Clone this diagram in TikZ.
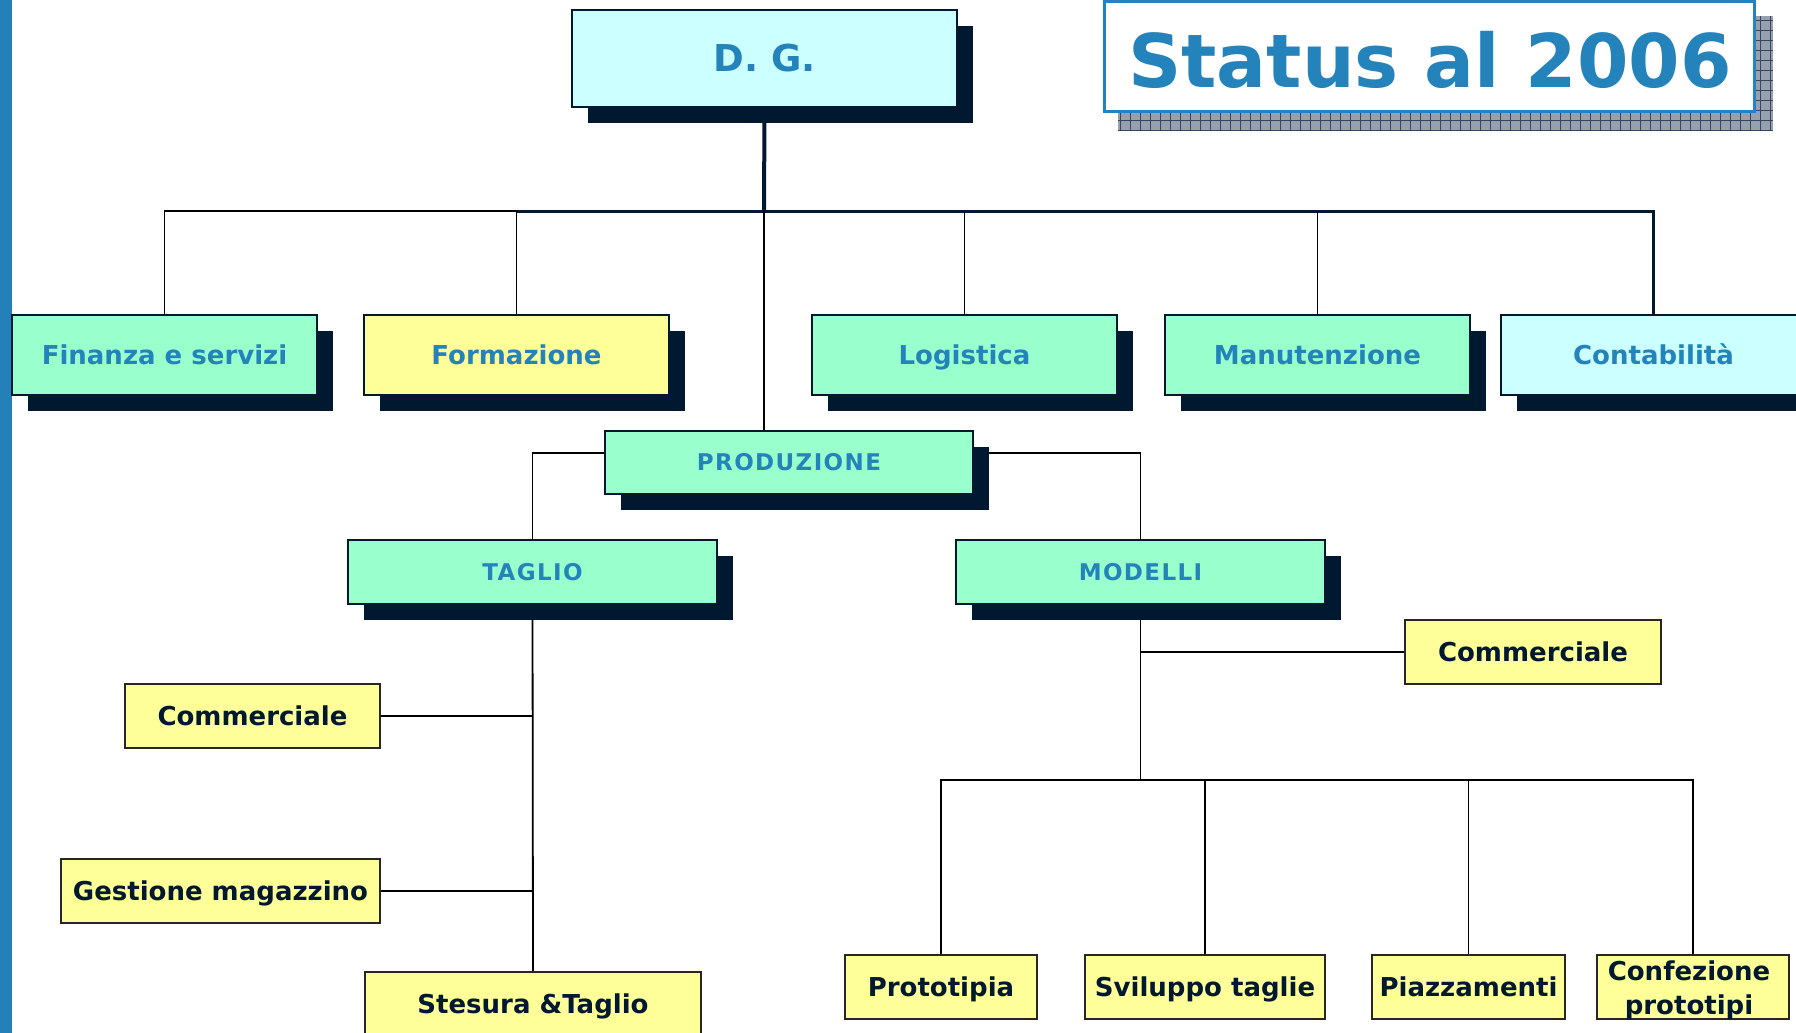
\documentclass[tikz,border=0pt]{standalone}
\usepackage{fontspec}
\setmainfont{DejaVu Sans}
\usetikzlibrary{shadows}
\definecolor{blueT}{RGB}{35,131,186}
\definecolor{navy}{RGB}{0,24,48}
\definecolor{cyanF}{RGB}{204,255,255}
\definecolor{greenF}{RGB}{153,255,204}
\definecolor{yellF}{RGB}{255,255,153}
\definecolor{gridF}{RGB}{150,160,175}
\definecolor{gridL}{RGB}{55,70,95}
\definecolor{barC}{RGB}{35,128,184}
\pgfdeclarelayer{back}
\pgfdeclarelayer{bg}
\pgfsetlayers{back,bg,main}
\begin{document}
\begin{tikzpicture}[x=1pt,y=-1pt,
  base/.style={draw=navy, line width=2pt, inner sep=0pt, text height=19pt, text depth=0pt,
    font=\bfseries\fontsize{26}{30}\selectfont},
  shad/.style={drop shadow={shadow xshift=16pt,shadow yshift=-16pt,fill=navy,opacity=1}},
  topbox/.style={base, shad, minimum width=305pt, minimum height=80pt, text=blueT},
  midbox/.style={base, shad, fill=greenF, minimum width=369pt, minimum height=64pt, text=blueT,
    text height=16.8pt,
    font=\bfseries\fontsize{23}{27}\selectfont\addfontfeature{LetterSpace=6}},
  ybox/.style={base, fill=yellF, draw=black!85, line width=1.6pt, text=navy, minimum height=64pt},
  ytext/.style={text=navy, inner sep=0pt, font=\bfseries\fontsize{26}{30}\selectfont},
  link/.style={line width=1.8pt, draw=black},
  heavy/.style={line width=3pt, draw=navy}
]
\useasboundingbox (0,0) rectangle (1796,1033);
\begin{pgfonlayer}{back}
\fill[white] (0,0) rectangle (1796,1033);
\end{pgfonlayer}
% left bar
\fill[barC] (0,0) rectangle (12,1033);

% title
\fill[gridF] (1118,16) rectangle (1773,131);
\draw[gridL, line width=0.7pt, step=10pt] (1118,16) grid (1773,131);
\node[draw=blueT, line width=3pt, fill=white, minimum width=650pt, minimum height=110pt, inner sep=0pt] (title) at (1429.5,56.5) {};
\node[text=blueT, inner sep=0pt, anchor=base, font=\bfseries\fontsize{74}{80}\selectfont] (ttl) at (1430,88) {Status al 2006};

% top level
\node[topbox, fill=cyanF, minimum width=385pt, minimum height=97pt, text height=27pt, font=\bfseries\fontsize{37}{42}\selectfont] (dg) at (764.5,58.5) {D. G.};
\node[topbox, fill=greenF] (fin) at (164.5,355) {Finanza e servizi};
\node[topbox, fill=yellF] (form) at (516.5,355) {Formazione};
\node[topbox, fill=greenF] (log) at (964.5,355) {Logistica};
\node[topbox, fill=greenF] (man) at (1317.5,355) {Manutenzione};
\node[topbox, fill=cyanF] (cont) at (1653.5,355) {Contabilità};

% production
\node[midbox, minimum width=368pt, minimum height=63pt] (prod) at (789,462.5) {PRODUZIONE};
\node[midbox] (tag) at (532.5,572) {TAGLIO};
\node[midbox] (mod) at (1140.5,572) {MODELLI};

% yellow boxes
\node[ybox, minimum width=256pt] (comR) at (1533,652) {Commerciale};
\node[ybox, minimum width=255pt] (comL) at (252.5,716) {Commerciale};
\node[ybox, minimum width=319pt] (gest) at (220.5,891) {Gestione magazzino};
\node[ybox, minimum width=336pt] (stes) at (533,1004) {Stesura \&Taglio};
\node[ybox, minimum width=192pt] (proto) at (941,987) {Prototipia};
\node[ybox, minimum width=240pt] (svil) at (1205,987) {Sviluppo taglie};
\node[ybox, minimum width=193pt] (piaz) at (1468.5,987) {Piazzamenti};
\node[ybox, minimum width=192pt] (conf) at (1693,987) {};
\node[ytext, anchor=base] (conf1) at (1689,980) {Confezione};
\node[ytext, anchor=base] (conf2) at (1689,1014) {prototipi};

% connectors
\begin{pgfonlayer}{bg}
\coordinate (busC) at (764,211);
\draw[heavy, line width=4pt] (dg.south) -- (busC);
\draw[link, line width=1.5pt] (fin.north) |- (form.north |- busC);
\draw[link] (form.north) -- (form.north |- busC);
\draw[heavy] (form.north |- busC) -- (cont.north |- busC) -- (cont.north);
\draw[link] (log.north) -- (log.north |- busC);
\draw[link] (man.north) -- (man.north |- busC);
\draw[link] (busC) -- (prod.north -| busC);
\draw[link] ([yshift=9.5pt]prod.west) -| (tag.north);
\draw[link] ([yshift=9.5pt]prod.east) -| (mod.north);
\draw[link] (tag.south) -- (stes.north);
\draw[link] (comL.east) -- (comL.east -| tag.south);
\draw[link] (gest.east) -- (gest.east -| tag.south);
\coordinate (mbus) at (1140.5,780);
\draw[link] (mod.south) -- (mbus);
\draw[link] (comR.west) -- (comR.west -| mod.south);
\draw[link] (proto.north) |- (conf.north |- mbus) -- (conf.north);
\draw[link, line width=2.6pt] (mbus) -- (piaz.north |- mbus);
\draw[link] (svil.north) -- (svil.north |- mbus);
\draw[link] (piaz.north) -- (piaz.north |- mbus);
\end{pgfonlayer}
\end{tikzpicture}
\end{document}
